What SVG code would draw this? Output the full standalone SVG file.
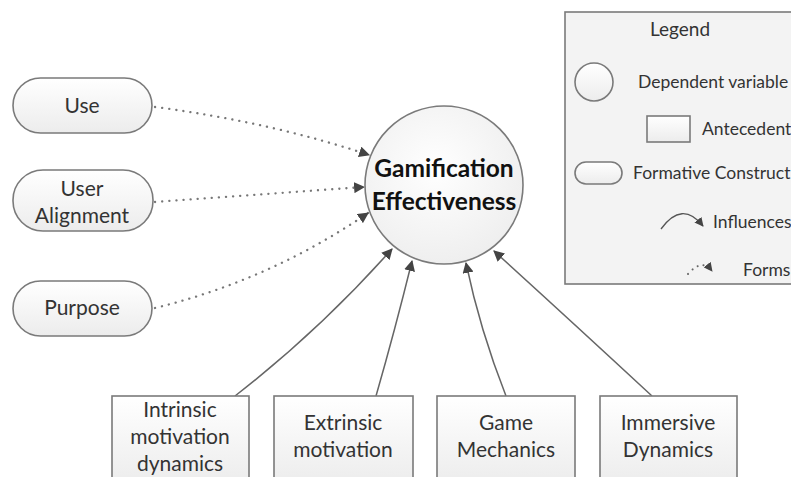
<svg xmlns="http://www.w3.org/2000/svg" width="791" height="477" viewBox="0 0 791 477">
<defs>
  <linearGradient id="gfill" x1="0" y1="0" x2="0" y2="1">
    <stop offset="0" stop-color="#ffffff"/>
    <stop offset="1" stop-color="#ececec"/>
  </linearGradient>
  <radialGradient id="cfill" cx="0.45" cy="0.4" r="0.7">
    <stop offset="0" stop-color="#ffffff"/>
    <stop offset="1" stop-color="#ececec"/>
  </radialGradient>
  <marker id="arr" viewBox="0 0 10 10" refX="9" refY="5" markerWidth="11" markerHeight="11" markerUnits="userSpaceOnUse" orient="auto">
    <path d="M0,0 L10,5 L0,10 z" fill="#444"/>
  </marker>
  <marker id="arrs" viewBox="0 0 10 10" refX="9" refY="5" markerWidth="9" markerHeight="9" markerUnits="userSpaceOnUse" orient="auto">
    <path d="M0,0 L10,5 L0,10 z" fill="#444"/>
  </marker>
</defs>
<style>
  .shape{fill:url(#gfill);stroke:#7a7a7a;stroke-width:1.6}
  .t{font-family:Lato,"Open Sans","Liberation Sans",sans-serif;fill:#333;text-anchor:middle}
  .n{font-size:21px}
  .lg{font-size:17.5px;text-anchor:start}
  .solid{fill:none;stroke:#666;stroke-width:1.5;marker-end:url(#arr)}
  .dot{fill:none;stroke:#777;stroke-width:2.3;stroke-linecap:round;stroke-dasharray:0.1 7;marker-end:url(#arr)}
</style>
<rect width="791" height="477" fill="#ffffff"/>

<g id="legend">
  <rect x="565" y="12" width="240" height="272" fill="#f3f3f3" stroke="#7a7a7a" stroke-width="1.6"/>
  <text class="t" x="680" y="36" style="font-size:19px">Legend</text>
  <circle cx="594" cy="82" r="19" class="shape"/>
  <text class="t lg" x="638" y="88">Dependent variable</text>
  <rect x="647" y="116" width="43" height="26" class="shape"/>
  <text class="t lg" x="702" y="135">Antecedent</text>
  <rect x="575" y="162" width="47" height="22" rx="11" class="shape"/>
  <text class="t lg" x="633" y="179">Formative Construct</text>
  <path d="M661,229 Q682,200 703,226" fill="none" stroke="#555" stroke-width="1.3" marker-end="url(#arrs)"/>
  <text class="t lg" x="713" y="228">Influences</text>
  <path d="M688,274 Q702,258 712,271" fill="none" stroke="#666" stroke-width="2" stroke-linecap="round" stroke-dasharray="0.1 6" marker-end="url(#arrs)"/>
  <text class="t lg" x="743" y="276">Forms</text>
</g>

<g id="connectors">
  <path class="dot" d="M155,107 Q270,122 369,155"/>
  <path class="dot" d="M155,202 Q265,194 364,187"/>
  <path class="dot" d="M155,308 Q270,280 368,213"/>
  <path class="solid" d="M235,396 Q320,330 392,249"/>
  <path class="solid" d="M376,396 Q395,330 412,261"/>
  <path class="solid" d="M506,396 Q480,330 466,263"/>
  <path class="solid" d="M652,396 Q570,320 494,251"/>
</g>

<g id="gamification-effectiveness">
  <circle cx="444" cy="185" r="79" fill="url(#cfill)" stroke="#7a7a7a" stroke-width="1.6"/>
  <text class="t" x="444" y="177" style="font-size:24.5px;font-weight:bold;fill:#111">Gamification</text>
  <text class="t" x="444" y="210" style="font-size:24.5px;font-weight:bold;fill:#111">Effectiveness</text>
</g>

<g id="use">
  <rect x="13" y="78" width="139" height="55" rx="27.5" class="shape"/>
  <text class="t n" x="82" y="113">Use</text>
</g>
<g id="user-alignment">
  <rect x="13" y="170" width="140" height="61" rx="30" class="shape"/>
  <text class="t n" x="82" y="196">User</text>
  <text class="t n" x="82" y="223">Alignment</text>
</g>
<g id="purpose">
  <rect x="13" y="281" width="139" height="55" rx="27.5" class="shape"/>
  <text class="t n" x="82" y="315">Purpose</text>
</g>

<g id="intrinsic">
  <rect x="112" y="396" width="137" height="90" class="shape"/>
  <text class="t n" x="180" y="417">Intrinsic</text>
  <text class="t n" x="180" y="444">motivation</text>
  <text class="t n" x="180" y="471">dynamics</text>
</g>
<g id="extrinsic">
  <rect x="274" y="396" width="139" height="90" class="shape"/>
  <text class="t n" x="343" y="430">Extrinsic</text>
  <text class="t n" x="343" y="457">motivation</text>
</g>
<g id="game-mechanics">
  <rect x="437" y="396" width="138" height="90" class="shape"/>
  <text class="t n" x="506" y="430">Game</text>
  <text class="t n" x="506" y="457">Mechanics</text>
</g>
<g id="immersive-dynamics">
  <rect x="600" y="396" width="137" height="90" class="shape"/>
  <text class="t n" x="668" y="430">Immersive</text>
  <text class="t n" x="668" y="457">Dynamics</text>
</g>
</svg>
